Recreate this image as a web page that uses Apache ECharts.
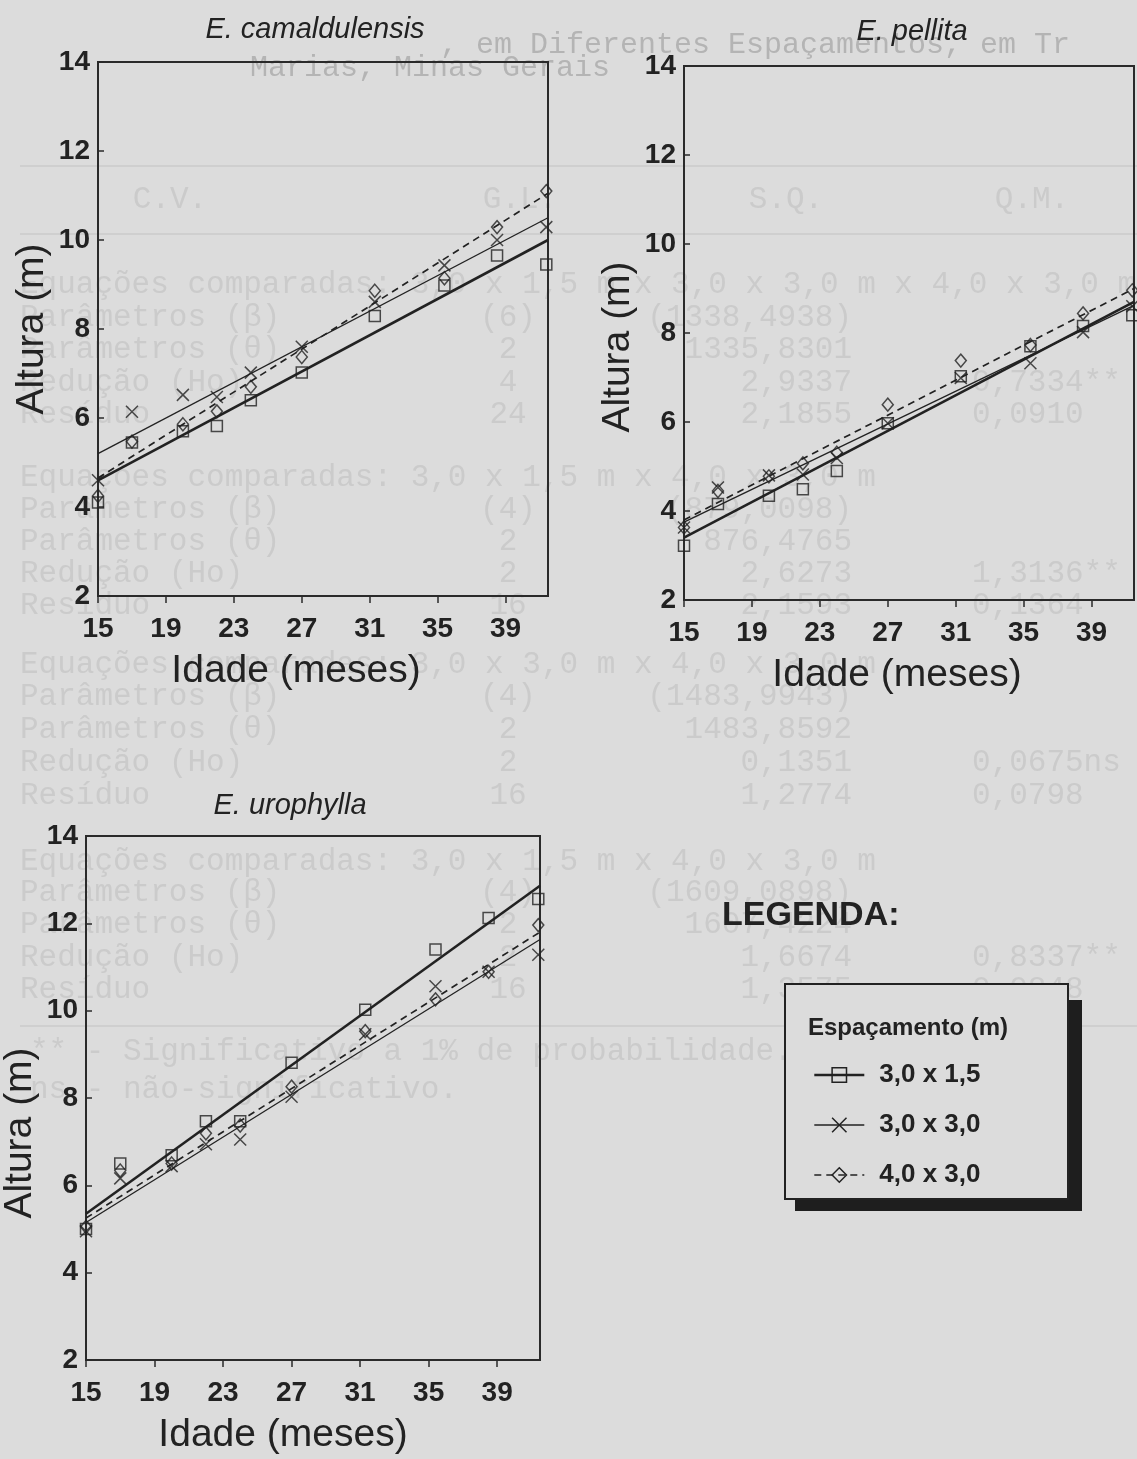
<!DOCTYPE html>
<html>
<head>
<meta charset="utf-8">
<script src="https://cdn.jsdelivr.net/npm/echarts@6/dist/echarts.min.js"></script>
<style>
html,body{margin:0;padding:0;background:#dcdcdc;}
#c{width:1137px;height:1459px;}
</style>
</head>
<body>
<div id="c"></div>
<script>
// ---------------- DATA ----------------
const ages = [15, 17, 20, 22, 24, 27, 31.3, 35.4, 38.5, 41.4];      // Idade (meses)
const spacings = ['3,0 x 1,5', '3,0 x 3,0', '4,0 x 3,0'];            // Espaçamento (m)
const species = ['E. camaldulensis', 'E. pellita', 'E. urophylla'];

// E. camaldulensis – observed heights (m)
const camaldulensis_30x15 = [4.1, 5.45, 5.7, 5.82, 6.4, 7.02, 8.29, 8.98, 9.65, 9.45];
const camaldulensis_30x30 = [4.6, 6.14, 6.52, 6.47, 7.02, 7.6, 8.61, 9.43, 10.0, 10.29];
const camaldulensis_40x30 = [4.25, 5.47, 5.86, 6.15, 6.7, 7.37, 8.86, 9.14, 10.29, 11.1];
// E. pellita
const pellita_30x15 = [3.22, 4.16, 4.34, 4.49, 4.9, 5.97, 7.03, 7.7, 8.16, 8.4];
const pellita_30x30 = [3.63, 4.53, 4.8, 4.82, 5.19, 5.97, 6.99, 7.32, 8.02, 8.6];
const pellita_40x30 = [3.63, 4.45, 4.78, 5.07, 5.31, 6.39, 7.38, 7.73, 8.44, 8.96];
// E. urophylla
const urophylla_30x15 = [5.0, 6.5, 6.69, 7.47, 7.47, 8.81, 10.02, 11.4, 12.12, 12.56];
const urophylla_30x30 = [4.95, 6.16, 6.44, 6.94, 7.05, 8.03, 9.46, 10.56, 10.89, 11.28];
const urophylla_40x30 = [5.05, 6.34, 6.5, 7.19, 7.37, 8.26, 9.53, 10.26, 10.89, 11.96];

// fitted lines: height at start and end age
const fitAges = [15, 41.5];
const camaldulensis_fit_30x15 = [4.6, 10.0];
const camaldulensis_fit_30x30 = [5.2, 10.5];
const camaldulensis_fit_40x30 = [4.65, 11.05];
const pellita_fit_30x15 = [3.4, 8.7];
const pellita_fit_30x30 = [3.75, 8.62];
const pellita_fit_40x30 = [3.8, 9.0];
const urophylla_fit_30x15 = [5.35, 12.86];
const urophylla_fit_30x30 = [5.15, 11.63];
const urophylla_fit_40x30 = [5.25, 11.8];

const xMin = 15, xMax = 41.5, xInterval = 4;
const yMin = 2, yMax = 14, yInterval = 2;

// faint table printed on the other side of the page (bleed-through)
const bleedHeader = [', em Diferentes Espaçamentos, em Tr', 'Marias, Minas Gerais'];
const bleedColumns = ['C.V.', 'G.L.', 'S.Q.', 'Q.M.'];
const bleedRows = [
  ['Equações comparadas: 3,0 x 1,5 m x 3,0 x 3,0 m x 4,0 x 3,0 m', '', '', ''],
  ['Parâmetros (β)', '(6)', '(1338,4938)', ''],
  ['Parâmetros (θ)', '2', '1335,8301', ''],
  ['Redução (Ho)', '4', '2,9337', '0,7334**'],
  ['Resíduo', '24', '2,1855', '0,0910'],
  ['Equações comparadas: 3,0 x 1,5 m x 4,0 x 3,0 m', '', '', ''],
  ['Parâmetros (β)', '(4)', '(879,0098)', ''],
  ['Parâmetros (θ)', '2', '876,4765', ''],
  ['Redução (Ho)', '2', '2,6273', '1,3136**'],
  ['Resíduo', '16', '2,1593', '0,1364'],
  ['Equações comparadas: 3,0 x 3,0 m x 4,0 x 3,0 m', '', '', ''],
  ['Parâmetros (β)', '(4)', '(1483,9943)', ''],
  ['Parâmetros (θ)', '2', '1483,8592', ''],
  ['Redução (Ho)', '2', '0,1351', '0,0675ns'],
  ['Resíduo', '16', '1,2774', '0,0798'],
  ['Equações comparadas: 3,0 x 1,5 m x 4,0 x 3,0 m', '', '', ''],
  ['Parâmetros (β)', '(4)', '(1609,0898)', ''],
  ['Parâmetros (θ)', '2', '1607,4224', ''],
  ['Redução (Ho)', '2', '1,6674', '0,8337**'],
  ['Resíduo', '16', '1,3575', '0,0848']
];
const bleedNotes = ['** - Significativo a 1% de probabilidade.', 'ns - não-significativo.'];

// ---------------- STYLE / LAYOUT ----------------
const FONT = "'Liberation Sans', Arial, Helvetica, sans-serif";
const MONO = "'Liberation Mono', 'Courier New', monospace";
const INK = '#222222';
const BG = '#dcdcdc';
const obs = [
  [camaldulensis_30x15, camaldulensis_30x30, camaldulensis_40x30],
  [pellita_30x15, pellita_30x30, pellita_40x30],
  [urophylla_30x15, urophylla_30x30, urophylla_40x30]
];
const fits = [
  [camaldulensis_fit_30x15, camaldulensis_fit_30x30, camaldulensis_fit_40x30],
  [pellita_fit_30x15, pellita_fit_30x30, pellita_fit_40x30],
  [urophylla_fit_30x15, urophylla_fit_30x30, urophylla_fit_40x30]
];
const gridPos = [
  {left: 98, top: 62, width: 450, height: 534},
  {left: 684, top: 66, width: 450, height: 534},
  {left: 83, top: 836, width: 457, height: 524}
];
const titlePos = [{x: 315, y: 15}, {x: 912, y: 17}, {x: 290, y: 791}];
const xNamePad = [54, 24, 60];
const yNamePad = [[0, 0, 0, 0], [0, 28, 0, 0], [0, 70, 0, 0]];

const symbols = ['rect', 'path://M0,0L10,10M10,0L0,10', 'diamond'];
const symbolSizes = [11, 12, [11, 13]];
const lineStyles = [
  {width: 2.6, type: 'solid'},
  {width: 1.3, type: 'solid'},
  {width: 1.7, type: [7, 5]}
];
const markStyle = {color: 'transparent', borderColor: INK, borderWidth: 1.5};

const grid = gridPos.map(g => Object.assign({show: true, borderColor: '#2a2a2a', borderWidth: 2, backgroundColor: 'transparent'}, g));

const xAxis = gridPos.map((g, k) => ({
  type: 'value', gridIndex: k, min: xMin, max: xMax, interval: xInterval,
  axisLine: {show: true, lineStyle: {color: '#2a2a2a', width: 2}},
  axisTick: {show: true, inside: false, length: 7, lineStyle: {color: '#2a2a2a', width: 1.5}},
  axisLabel: {show: true, showMaxLabel: false, margin: 19, fontSize: 28, fontWeight: 'bold', color: INK, fontFamily: FONT},
  splitLine: {show: false},
  name: 'Idade (meses)', nameLocation: 'middle', nameGap: 56,
  nameTextStyle: {fontSize: 39, color: INK, fontFamily: FONT, padding: [0, xNamePad[k], 0, 0]}
}));

const yAxis = gridPos.map((g, k) => ({
  type: 'value', gridIndex: k, min: yMin, max: yMax, interval: yInterval,
  axisLine: {show: true, lineStyle: {color: '#2a2a2a', width: 2}},
  axisTick: {show: true, inside: true, length: 6, lineStyle: {color: '#2a2a2a', width: 1.5}},
  axisLabel: {show: true, margin: 8, fontSize: 28, fontWeight: 'bold', color: INK, fontFamily: FONT},
  splitLine: {show: false},
  name: 'Altura (m)', nameLocation: 'middle', nameGap: 46, nameRotate: 90,
  nameTextStyle: {fontSize: 39, color: INK, fontFamily: FONT, padding: yNamePad[k]}
}));

const series = [];
// fitted lines first (legend takes icon from them)
fits.forEach((plotFits, k) => {
  plotFits.forEach((f, j) => {
    series.push({
      type: 'line', name: spacings[j], xAxisIndex: k, yAxisIndex: k,
      data: fitAges.map((a, i) => [a, f[i]]),
      showSymbol: false, symbol: symbols[j], symbolSize: symbolSizes[j],
      itemStyle: markStyle,
      lineStyle: Object.assign({color: INK}, lineStyles[j]),
      silent: true, z: 3
    });
  });
});
obs.forEach((plotObs, k) => {
  plotObs.forEach((vals, j) => {
    series.push({
      type: 'scatter', name: spacings[j], xAxisIndex: k, yAxisIndex: k,
      data: ages.map((a, i) => [a, vals[i]]),
      symbol: symbols[j], symbolSize: symbolSizes[j],
      itemStyle: markStyle, clip: false, silent: true, z: 4
    });
  });
});

const title = species.map((s, k) => ({
  text: s, left: titlePos[k].x, top: titlePos[k].y, textAlign: 'center', padding: 0,
  textStyle: {fontSize: 29, fontStyle: 'italic', fontWeight: 'normal', color: INK, fontFamily: FONT}
}));

// bleed-through graphic texts
const bleedColor = '#cbcbcb';
const bleedFont = '31px ' + MONO;
const graphics = [];
graphics.push({type: 'text', x: 440, y: 45, z: -10, silent: true,
  style: {text: bleedHeader[0], font: '30px ' + MONO, fill: '#b4b4b4', textVerticalAlign: 'middle'}});
graphics.push({type: 'text', x: 250, y: 68, z: -10, silent: true,
  style: {text: bleedHeader[1], font: '30px ' + MONO, fill: '#b4b4b4', textVerticalAlign: 'middle'}});
[165, 233].forEach(y => graphics.push({type: 'rect', z: -10, silent: true,
  shape: {x: 20, y: y, width: 1117, height: 2}, style: {fill: '#cfcfcf'}}));
const colX = [170, 520, 786, 1032];
bleedColumns.forEach((c, i) => graphics.push({type: 'text', x: colX[i], y: 200, z: -10, silent: true,
  style: {text: c, font: bleedFont, fill: bleedColor, textAlign: 'center', textVerticalAlign: 'middle'}}));
const rowY = [285, 318, 350, 383, 415, 478, 510, 542, 574, 606, 665, 697, 730, 763, 796, 862, 893, 925, 958, 990];
bleedRows.forEach((r, i) => {
  const y = rowY[i];
  graphics.push({type: 'text', x: 20, y: y, z: -10, silent: true,
    style: {text: r[0], font: bleedFont, fill: bleedColor, textAlign: 'left', textVerticalAlign: 'middle'}});
  if (r[1]) graphics.push({type: 'text', x: 508, y: y, z: -10, silent: true,
    style: {text: r[1], font: bleedFont, fill: bleedColor, textAlign: 'center', textVerticalAlign: 'middle'}});
  if (r[2]) graphics.push({type: 'text', x: 852, y: y, z: -10, silent: true,
    style: {text: r[2], font: bleedFont, fill: bleedColor, textAlign: 'right', textVerticalAlign: 'middle'}});
  if (r[3]) graphics.push({type: 'text', x: 972, y: y, z: -10, silent: true,
    style: {text: r[3], font: bleedFont, fill: bleedColor, textAlign: 'left', textVerticalAlign: 'middle'}});
});
graphics.push({type: 'rect', z: -10, silent: true, shape: {x: 20, y: 1025, width: 1117, height: 2}, style: {fill: '#cfcfcf'}});
graphics.push({type: 'text', x: 30, y: 1052, z: -10, silent: true,
  style: {text: bleedNotes[0], font: bleedFont, fill: bleedColor, textVerticalAlign: 'middle'}});
graphics.push({type: 'text', x: 30, y: 1090, z: -10, silent: true,
  style: {text: bleedNotes[1], font: bleedFont, fill: bleedColor, textVerticalAlign: 'middle'}});

// legend frame
graphics.push({type: 'text', x: 722, y: 916, z: 5, silent: true,
  style: {text: 'LEGENDA:', font: 'bold 34px ' + FONT, fill: INK, textVerticalAlign: 'middle'}});
graphics.push({type: 'rect', z: 5, silent: true, shape: {x: 795, y: 1000, width: 287, height: 211}, style: {fill: '#1e1e1e'}});
graphics.push({type: 'rect', z: 6, silent: true, shape: {x: 785, y: 984, width: 283, height: 215},
  style: {fill: BG, stroke: INK, lineWidth: 2}});
graphics.push({type: 'text', x: 808, y: 1028, z: 7, silent: true,
  style: {text: 'Espaçamento (m)', font: 'bold 24px ' + FONT, fill: INK, textVerticalAlign: 'middle'}});

const legend = {
  data: spacings.map((n, j) => ({name: n, lineStyle: Object.assign({color: INK}, lineStyles[j])})),
  orient: 'vertical', left: 808, top: 1057, z: 8,
  itemWidth: 50, itemHeight: 18, itemGap: 24, selectedMode: false,
  itemStyle: {color: 'transparent', borderColor: INK, borderWidth: 1.5},
  textStyle: {fontSize: 26, fontWeight: 'bold', color: INK, fontFamily: FONT, padding: [0, 0, 0, 10]}
};

const chart = echarts.init(document.getElementById('c'), null, {renderer: 'canvas'});
chart.setOption({
  animation: false,
  backgroundColor: BG,
  title: title,
  grid: grid,
  xAxis: xAxis,
  yAxis: yAxis,
  legend: legend,
  graphic: graphics,
  series: series
});
</script>
</body>
</html>
